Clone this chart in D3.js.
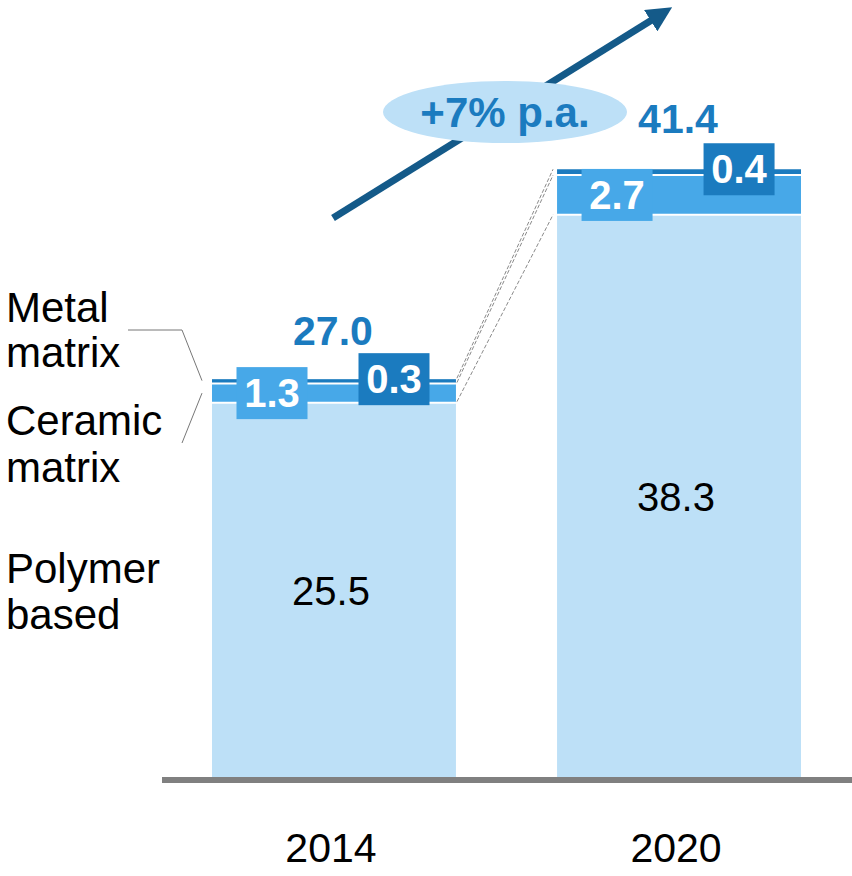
<!DOCTYPE html>
<html>
<head>
<meta charset="utf-8">
<script src="https://cdn.jsdelivr.net/npm/d3@7"></script>
<style>
  body { margin: 0; background: #fff; }
  svg { display: block; font-family: "Liberation Sans", Arial, sans-serif; }
</style>
</head>
<body>
<div id="chart"></div>
<script>
// Chart data
const years = ["2014", "2020"];
const layers = ["Polymer based", "Ceramic matrix", "Metal matrix"];
const polymer = [25.5, 38.3];
const ceramic = [1.3, 2.7];
const metal = [0.3, 0.4];
const totals = [27.0, 41.4];
const growthLabel = "+7% p.a.";

const width = 852;
const height = 876;
const baseY = 777;

const colors = {
  "Polymer based": "#bde0f7",
  "Ceramic matrix": "#47a8e8",
  "Metal matrix": "#1b7bbf"
};

const svg = d3.select("#chart").append("svg")
  .attr("width", width)
  .attr("height", height);

const x = d3.scaleBand()
  .domain(years)
  .range([212, 801])
  .paddingInner(0.293)
  .paddingOuter(0);

const y = d3.scaleLinear()
  .domain([0, 50])
  .range([baseY, baseY - 734]);

// Stack the series
const rows = years.map((yr, i) => ({
  year: yr,
  "Polymer based": polymer[i],
  "Ceramic matrix": ceramic[i],
  "Metal matrix": metal[i]
}));
const series = d3.stack().keys(layers)(rows);

// Dashed connectors between the bars
const connectors = svg.append("g")
  .attr("stroke", "#8a8a8a")
  .attr("stroke-width", 1)
  .attr("stroke-dasharray", "4,2")
  .attr("fill", "none");
series.forEach(s => {
  connectors.append("line")
    .attr("x1", x(years[0]) + x.bandwidth() + 1)
    .attr("y1", y(s[0][1]) - 1)
    .attr("x2", x(years[1]) - 4)
    .attr("y2", y(s[1][1]));
});

// Bars
svg.append("g")
  .selectAll("g")
  .data(series)
  .join("g")
    .attr("fill", d => colors[d.key])
  .selectAll("rect")
  .data(d => d)
  .join("rect")
    .attr("x", d => x(d.data.year))
    .attr("y", d => y(d[1]))
    .attr("width", x.bandwidth())
    .attr("height", d => y(d[0]) - y(d[1]));

// White separators between segments
series.slice(1).forEach(s => {
  svg.append("g").selectAll("line")
    .data(s)
    .join("line")
      .attr("x1", d => x(d.data.year))
      .attr("x2", d => x(d.data.year) + x.bandwidth())
      .attr("y1", d => y(d[0]))
      .attr("y2", d => y(d[0]))
      .attr("stroke", "#fff")
      .attr("stroke-width", 2);
});

// Axis baseline
svg.append("line")
  .attr("x1", 162).attr("x2", width)
  .attr("y1", baseY + 3).attr("y2", baseY + 3)
  .attr("stroke", "#808080")
  .attr("stroke-width", 6);

// Year labels
svg.append("g")
  .selectAll("text")
  .data(years)
  .join("text")
    .attr("x", d => x(d) + x.bandwidth() / 2 - 3)
    .attr("y", 862)
    .attr("text-anchor", "middle")
    .attr("font-size", 41)
    .attr("fill", "#000")
    .text(d => d);

// Polymer values inside the bars
svg.append("g")
  .selectAll("text")
  .data(series[0])
  .join("text")
    .attr("x", d => x(d.data.year) + x.bandwidth() / 2 - 3)
    .attr("y", d => (y(d[0]) + y(d[1])) / 2 + 15)
    .attr("text-anchor", "middle")
    .attr("font-size", 40)
    .attr("fill", "#000")
    .text(d => d3.format(".1f")(d[1] - d[0]));

// Boxed labels for ceramic and metal
const boxW = 71, boxH = 52;
function boxLabels(s, dx, cy, fill) {
  const g = svg.append("g").selectAll("g")
    .data(s)
    .join("g")
      .attr("transform", d => `translate(${x(d.data.year) + dx},${cy(d)})`);
  g.append("rect")
    .attr("x", -boxW / 2).attr("y", -boxH / 2)
    .attr("width", boxW).attr("height", boxH)
    .attr("fill", fill);
  g.append("text")
    .attr("y", 14)
    .attr("text-anchor", "middle")
    .attr("font-size", 40)
    .attr("font-weight", "bold")
    .attr("fill", "#fff")
    .text(d => d3.format(".1f")(d[1] - d[0]));
}
boxLabels(series[1], 60, d => (y(d[0]) + y(d[1])) / 2, colors["Ceramic matrix"]);
boxLabels(series[2], 182, d => y(d[1]), colors["Metal matrix"]);

// Totals
svg.append("g")
  .selectAll("text")
  .data(totals)
  .join("text")
    .attr("x", (d, i) => x(years[i]) + x.bandwidth() / 2 - 1)
    .attr("y", d => y(d) - 36)
    .attr("text-anchor", "middle")
    .attr("font-size", 41)
    .attr("font-weight", "bold")
    .attr("fill", "#1b7bbf")
    .text(d => d3.format(".1f")(d));

// Growth arrow
svg.append("defs").append("marker")
  .attr("id", "head")
  .attr("viewBox", "0 0 10 10")
  .attr("refX", 2).attr("refY", 5)
  .attr("markerWidth", 3.6).attr("markerHeight", 3.6)
  .attr("markerUnits", "strokeWidth")
  .attr("orient", "auto")
  .append("path")
    .attr("d", "M0,0L10,5L0,10Z")
    .attr("fill", "#145a89");

svg.append("line")
  .attr("x1", 333).attr("y1", 218)
  .attr("x2", 655).attr("y2", 18)
  .attr("stroke", "#145a89")
  .attr("stroke-width", 7)
  .attr("marker-end", "url(#head)");

svg.append("ellipse")
  .attr("cx", 505).attr("cy", 112)
  .attr("rx", 122).attr("ry", 31)
  .attr("fill", "#bde0f7");

svg.append("text")
  .attr("x", 505).attr("y", 127)
  .attr("text-anchor", "middle")
  .attr("font-size", 42)
  .attr("font-weight", "bold")
  .attr("fill", "#1b7bbf")
  .text(growthLabel);

// Legend labels on the left
const legendLines = [
  { text: "Metal", y: 322 }, { text: "matrix", y: 367 },
  { text: "Ceramic", y: 435 }, { text: "matrix", y: 482 },
  { text: "Polymer", y: 583 }, { text: "based", y: 629 }
];
svg.append("g")
  .selectAll("text")
  .data(legendLines)
  .join("text")
    .attr("x", 6)
    .attr("y", d => d.y)
    .attr("font-size", 42)
    .attr("fill", "#000")
    .text(d => d.text);

// Leader lines
const x0 = x(years[0]);
const leader = d3.line();
svg.append("path")
  .attr("d", leader([[128, 330], [x0 - 30, 330], [x0 - 10, y(totals[0])]]))
  .attr("fill", "none").attr("stroke", "#777").attr("stroke-width", 1);
svg.append("path")
  .attr("d", leader([[x0 - 10, (y(series[1][0][0]) + y(series[1][0][1])) / 2], [x0 - 30, 443]]))
  .attr("fill", "none").attr("stroke", "#777").attr("stroke-width", 1);
</script>
</body>
</html>
